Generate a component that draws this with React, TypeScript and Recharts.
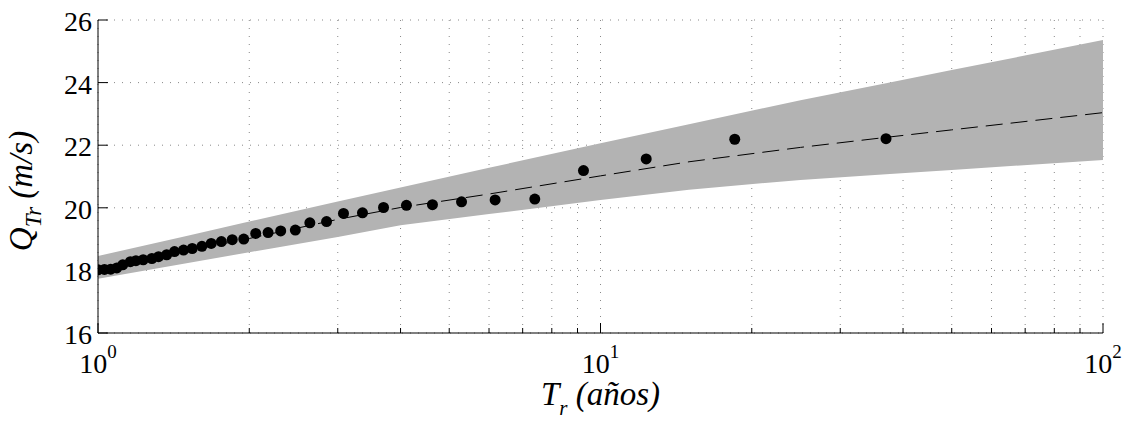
import React from "react";
import {
  ComposedChart,
  Area,
  Line,
  Scatter,
  XAxis,
  YAxis,
  CartesianGrid,
  Label,
} from "recharts";

// Observed annual maxima (return period T, years; discharge Q, m/s)
const obsReturnPeriods = [
  1.0, 1.03, 1.06, 1.09, 1.12, 1.16, 1.19, 1.23, 1.28, 1.32, 1.37, 1.42, 1.48,
  1.54, 1.61, 1.68, 1.76, 1.85, 1.95, 2.06, 2.18, 2.31, 2.47, 2.64, 2.85, 3.08,
  3.36, 3.7, 4.11, 4.63, 5.29, 6.17, 7.4, 9.25, 12.33, 18.5, 37.0,
];
const obsDischarge = [
  18.02, 18.03, 18.04, 18.08, 18.18, 18.28, 18.31, 18.34, 18.38, 18.44, 18.5,
  18.6, 18.65, 18.7, 18.77, 18.86, 18.92, 18.98, 19.0, 19.18, 19.21, 19.26,
  19.29, 19.52, 19.56, 19.82, 19.84, 20.01, 20.08, 20.1, 20.19, 20.25, 20.28,
  21.19, 21.56, 22.19, 22.21,
];

// Fitted curve and confidence band, read at these return periods
const curveReturnPeriods = [1, 1.5, 2, 3, 4, 6, 10, 15, 25, 37, 50, 100];
const fitDischarge = [18.0, 18.62, 19.02, 19.63, 20.01, 20.44, 21.02, 21.47, 21.93, 22.25, 22.49, 23.04];
const bandUpper = [18.46, 19.1, 19.56, 20.2, 20.65, 21.28, 22.06, 22.67, 23.44, 23.98, 24.4, 25.36];
const bandLower = [17.73, 18.23, 18.58, 19.07, 19.44, 19.8, 20.25, 20.58, 20.89, 21.07, 21.21, 21.53];

// Axis ticks
const xTickValues = [1, 2, 3, 4, 5, 6, 7, 8, 9, 10, 20, 30, 40, 50, 60, 70, 80, 90, 100];
const xMajorTicks = [1, 10, 100];
const xTickExponents = ["0", "1", "2"];
const yTickValues = [16, 18, 20, 22, 24, 26];

const FONT = "Liberation Serif, Tinos, Times New Roman, DejaVu Serif, serif";

const pointRows = obsReturnPeriods.map((t, i) => ({ t, q: obsDischarge[i] }));
const curveRows = curveReturnPeriods.map((t, i) => ({
  t,
  fit: fitDischarge[i],
  band: [bandLower[i], bandUpper[i]],
}));

const txt = { fontFamily: FONT };

const BottomTick = (props: any) => {
  const { x, y, payload } = props;
  const idx = xMajorTicks.indexOf(payload.value);
  const major = idx >= 0;
  return (
    <g>
      <line x1={x} x2={x} y1={y} y2={y - (major ? 10 : 5)} stroke="#000" strokeWidth={1} />
      {major && (
        <text x={x} y={y + 40} textAnchor="middle" style={txt} fontSize={28} fill="#000">
          10
          <tspan dy={-15} fontSize={19}>
            {xTickExponents[idx]}
          </tspan>
        </text>
      )}
    </g>
  );
};

const TopTick = (props: any) => {
  const { x, y, payload } = props;
  const major = xMajorTicks.indexOf(payload.value) >= 0;
  return <line x1={x} x2={x} y1={y} y2={y + (major ? 10 : 5)} stroke="#000" strokeWidth={1} />;
};

const LeftTick = (props: any) => {
  const { x, y, payload } = props;
  return (
    <g>
      <line x1={x} x2={x + 10} y1={y} y2={y} stroke="#000" strokeWidth={1} />
      <text x={x - 6} y={y + 11} textAnchor="end" style={txt} fontSize={28} fill="#000">
        {payload.value}
      </text>
    </g>
  );
};

const RightTick = (props: any) => {
  const { x, y } = props;
  return <line x1={x} x2={x - 10} y1={y} y2={y} stroke="#000" strokeWidth={1} />;
};

const XTitle = (props: any) => {
  const vb = props.viewBox;
  const cx = vb.x + vb.width / 2;
  return (
    <text x={cx} y={vb.y + 72} textAnchor="middle" style={txt} fontStyle="italic" fontSize={33} fill="#000">
      T
      <tspan dy={10} fontSize={21}>r</tspan>
      <tspan dy={-10} fontSize={33}> (años)</tspan>
    </text>
  );
};

const YTitle = (props: any) => {
  const vb = props.viewBox;
  const cx = 32;
  const cy = vb.y + 171;
  return (
    <text
      x={cx}
      y={cy}
      transform={`rotate(-90, ${cx}, ${cy})`}
      textAnchor="middle"
      style={txt}
      fontStyle="italic"
      fontSize={33}
      fill="#000"
    >
      Q
      <tspan dy={9} fontSize={23}>Tr</tspan>
      <tspan dy={-9} fontSize={33}> (m/s)</tspan>
    </text>
  );
};

const Dot = (props: any) => {
  const { cx, cy } = props;
  if (cx == null || cy == null) return null;
  return <circle cx={cx} cy={cy} r={5.5} fill="#000" />;
};

export default function App() {
  return (
    <div style={{ position: "absolute", left: 0, top: 0, width: 1126, height: 422, background: "#fff", fontFamily: FONT }}>
      <ComposedChart
        width={1126}
        height={422}
        data={curveRows}
        margin={{ top: 20, right: 23, bottom: 39, left: 38 }}
      >
        <CartesianGrid stroke="#888" strokeDasharray="1 7" strokeWidth={1} />
        <XAxis
          dataKey="t"
          type="number"
          scale="log"
          domain={[1, 100]}
          ticks={xTickValues}
          interval={0}
          allowDataOverflow
          height={50}
          tickSize={0}
          tickMargin={0}
          tickLine={false}
          axisLine={{ stroke: "#000", strokeWidth: 1 }}
          tick={<BottomTick />}
        >
          <Label content={<XTitle />} />
        </XAxis>
        <XAxis
          xAxisId="top"
          orientation="top"
          dataKey="t"
          type="number"
          scale="log"
          domain={[1, 100]}
          ticks={xTickValues}
          interval={0}
          allowDataOverflow
          height={0}
          tickSize={0}
          tickMargin={0}
          tickLine={false}
          axisLine={{ stroke: "#000", strokeWidth: 1 }}
          tick={<TopTick />}
        />
        <YAxis
          type="number"
          domain={[16, 26]}
          ticks={yTickValues}
          interval={0}
          allowDataOverflow
          width={60}
          tickSize={0}
          tickMargin={0}
          tickLine={false}
          axisLine={{ stroke: "#000", strokeWidth: 1 }}
          tick={<LeftTick />}
        >
          <Label content={<YTitle />} />
        </YAxis>
        <YAxis
          yAxisId="right"
          orientation="right"
          type="number"
          domain={[16, 26]}
          ticks={yTickValues}
          interval={0}
          allowDataOverflow
          width={0}
          tickSize={0}
          tickMargin={0}
          tickLine={false}
          axisLine={{ stroke: "#000", strokeWidth: 1 }}
          tick={<RightTick />}
        />
        <Area
          dataKey="band"
          type="linear"
          stroke="none"
          fill="#b3b3b3"
          fillOpacity={1}
          isAnimationActive={false}
          dot={false}
          activeDot={false}
        />
        <Line
          dataKey="fit"
          type="linear"
          stroke="#000"
          strokeWidth={1}
          strokeDasharray="17 8"
          dot={false}
          activeDot={false}
          isAnimationActive={false}
        />
        <Scatter data={pointRows} dataKey="q" shape={<Dot />} isAnimationActive={false} />
      </ComposedChart>
    </div>
  );
}
